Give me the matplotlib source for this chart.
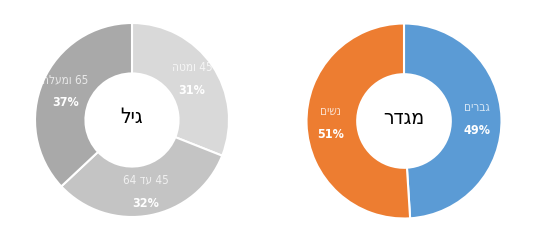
import matplotlib
matplotlib.use('Agg')
import numpy as np
from matplotlib import pyplot as plt

# Hebrew strings in logical order; converted to visual order before drawing
age_title = 'גיל'
age_labels = ['45 ומטה', '45 עד 64', '65 ומעלה']
age_values = [31, 32, 37]
age_colors = ['#d9d9d9', '#c4c4c4', '#a9a9a9']

gender_title = 'מגדר'
gender_labels = ['גברים', 'נשים']
gender_values = [49, 51]
gender_colors = ['#5b9bd5', '#ed7d31']


def visual(text):
    # reverse each Hebrew run, then reverse the order of words (simple RTL)
    words = text.split(' ')
    out = []
    for w in words:
        if any('\u0590' <= ch <= '\u05ff' for ch in w):
            out.append(w[::-1])
        else:
            out.append(w)
    return ' '.join(out[::-1])


def donut(ax, values, labels, colors, title):
    hole = 0.48
    wedges, _ = ax.pie(values, colors=colors, startangle=90, counterclock=False,
                       radius=1, wedgeprops=dict(width=1 - hole, edgecolor='white', linewidth=1.5))
    total = sum(values)
    r = 0.75
    for w, lab, v in zip(wedges, labels, values):
        ang = np.deg2rad((w.theta1 + w.theta2) / 2)
        x, y = r * np.cos(ang), r * np.sin(ang)
        ax.text(x, y + 0.12, visual(lab), ha='center', va='center', fontsize=8.5,
                color='white', alpha=0.75, family='DejaVu Sans', fontstretch='condensed')
        ax.text(x, y - 0.12, f'{round(100 * v / total)}%', ha='center', va='center',
                fontsize=9, color='white', fontweight='bold', family='DejaVu Sans',
                fontstretch='condensed')
    ax.text(0, 0.03, visual(title), ha='center', va='center', fontsize=15,
            color='black', family='DejaVu Sans', fontstretch='condensed')
    ax.set_xlim(-1, 1)
    ax.set_ylim(-1, 1)
    ax.set_aspect('equal')
    ax.axis('off')


fig = plt.figure(figsize=(5.36, 2.42), dpi=100)
ax1 = fig.add_axes([35 / 536, 25 / 242, 194 / 536, 194 / 242])
ax2 = fig.add_axes([306.5 / 536, 23.5 / 242, 195 / 536, 195 / 242])

donut(ax1, age_values, age_labels, age_colors, age_title)
donut(ax2, gender_values, gender_labels, gender_colors, gender_title)

fig.savefig('out.png', dpi=100)
